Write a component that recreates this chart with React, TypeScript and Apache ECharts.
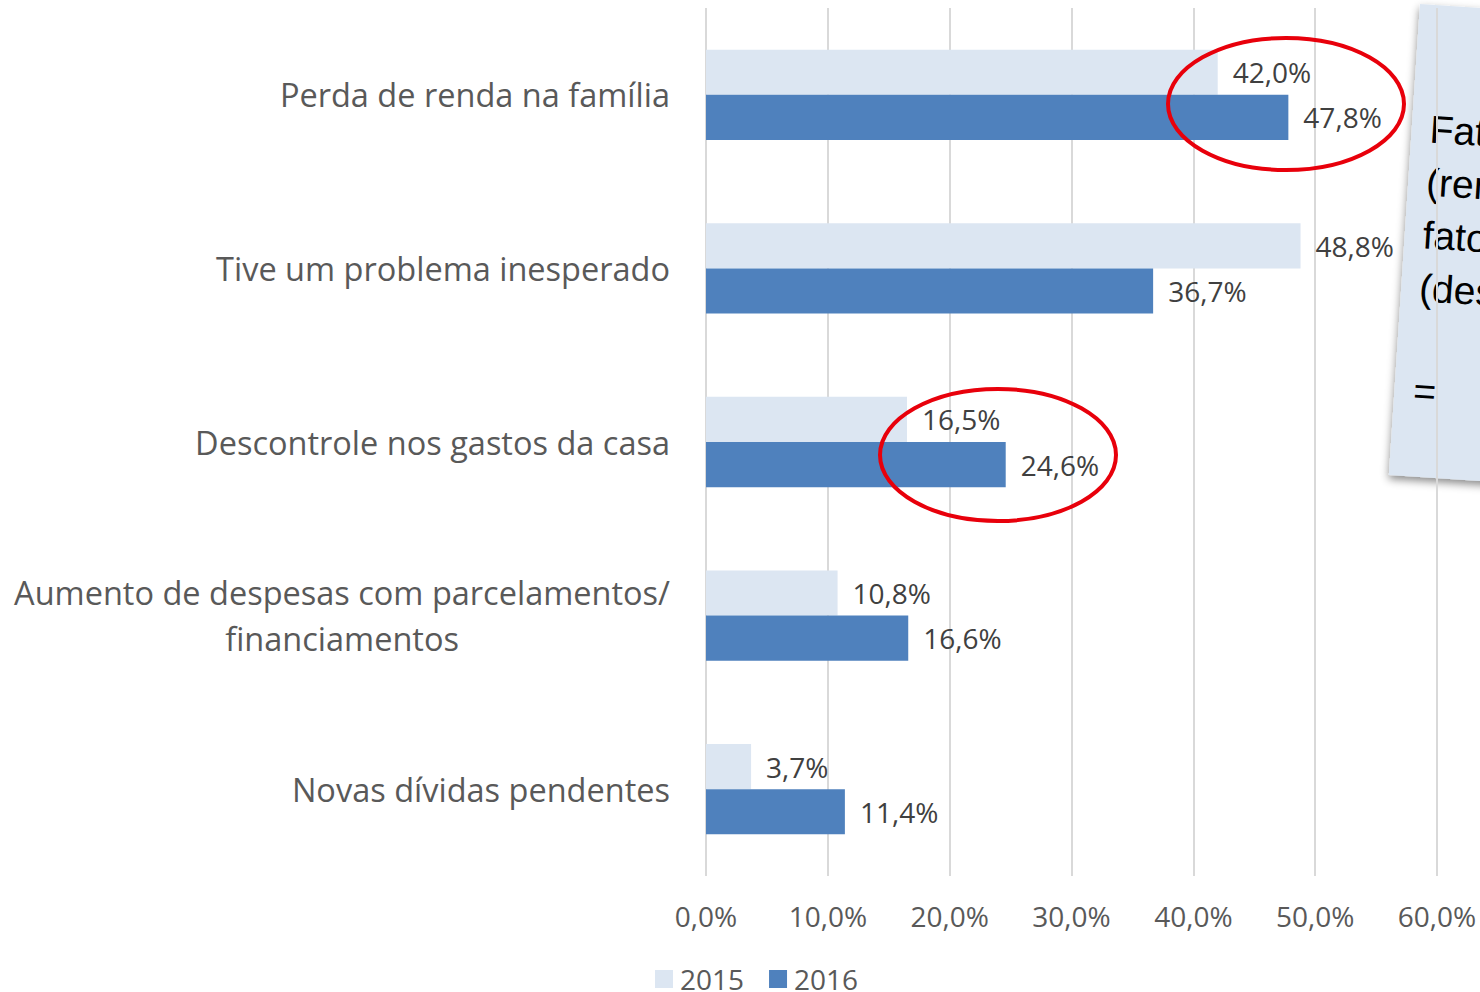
import React, { useEffect, useRef } from "react";
import * as echarts from "echarts";

const categories = [
  "Perda de renda na família",
  "Tive um problema inesperado",
  "Descontrole nos gastos da casa",
  "Aumento de despesas com parcelamentos/\nfinanciamentos",
  "Novas dívidas pendentes",
];
const values2015 = [42.0, 48.8, 16.5, 10.8, 3.7];
const values2016 = [47.8, 36.7, 24.6, 16.6, 11.4];
const seriesNames = ["2015", "2016"];
const noteLines = ["Fat", "(ren", "fato", "(des"];

const FONT = "'Open Sans', sans-serif";
const fmt = (v: number) => v.toFixed(1).replace(".", ",") + "%";

export default function App() {
  const ref = useRef<HTMLDivElement>(null);
  useEffect(() => {
    if (!ref.current) return;
    const chart = echarts.init(ref.current, null, { renderer: "svg" });
    const label = {
      show: true,
      position: "right",
      distance: 15,
      color: "#404040",
      fontSize: 28,
      fontFamily: FONT,
      formatter: (p: any) => fmt(p.value),
    };
    chart.setOption({
      animation: false,
      backgroundColor: "#ffffff",
      textStyle: { fontFamily: FONT },
      grid: { left: 706, right: 43, top: 8, bottom: 116, containLabel: false },
      legend: {
        data: seriesNames,
        left: 650,
        top: 960,
        itemWidth: 18,
        itemHeight: 18,
        itemGap: 25,
        icon: "rect",
        textStyle: { fontSize: 28, color: "#595959", fontFamily: FONT, padding: [0, 0, 0, 2] },
      },
      xAxis: {
        type: "value",
        min: 0,
        max: 60,
        interval: 10,
        axisLine: { show: false },
        axisTick: { show: false },
        splitLine: { show: true, lineStyle: { color: "#d9d9d9", width: 2 } },
        axisLabel: {
          formatter: (v: number) => fmt(v),
          color: "#595959",
          fontSize: 28,
          fontFamily: FONT,
          margin: 26,
        },
      },
      yAxis: {
        type: "category",
        inverse: true,
        data: categories,
        axisLine: { show: false },
        axisTick: { show: false },
        axisLabel: {
          color: "#595959",
          fontSize: 32.5,
          fontFamily: FONT,
          margin: 36,
          lineHeight: 46,
          formatter: (v: string) =>
            v.indexOf("\n") >= 0
              ? v
                  .split("\n")
                  .map((s) => "{c|" + s + "}")
                  .join("\n")
              : v,
          rich: {
            c: { align: "center", fontSize: 32.5, fontFamily: FONT, color: "#595959", lineHeight: 46 },
          },
        },
      },
      series: [
        {
          name: seriesNames[0],
          type: "bar",
          data: values2015,
          barGap: "0%",
          barCategoryGap: "48%",
          itemStyle: { color: "#dce6f2" },
          label,
        },
        {
          name: seriesNames[1],
          type: "bar",
          data: values2016,
          barGap: "0%",
          barCategoryGap: "48%",
          itemStyle: { color: "#4f81bd" },
          label,
        },
      ],
      graphic: [
        {
          type: "ellipse",
          z: 50,
          shape: { cx: 1286, cy: 104, rx: 118, ry: 66 },
          style: { fill: "none", stroke: "#e8000b", lineWidth: 4 },
        },
        {
          type: "ellipse",
          z: 50,
          shape: { cx: 998, cy: 455, rx: 118, ry: 66 },
          style: { fill: "none", stroke: "#e8000b", lineWidth: 4 },
        },
        {
          type: "group",
          x: 1420,
          y: 4,
          rotation: -0.066,
          z: 60,
          children: [
            {
              type: "rect",
              shape: { x: 0, y: 0, width: 200, height: 472 },
              style: {
                fill: "#dce6f2",
                shadowBlur: 8,
                shadowOffsetY: 4,
                shadowOffsetX: 0,
                shadowColor: "rgba(0,0,0,0.45)",
              },
            },
            ...noteLines.map((t, i) => ({
              type: "text",
              x: 18,
              y: 124 + i * 53,
              style: {
                text: t,
                fontSize: 39,
                fontFamily: "'Liberation Sans', Arial, sans-serif",
                fill: "#000000",
                verticalAlign: "middle",
                align: "left",
              },
            })),
            {
              type: "text",
              x: 19,
              y: 386,
              style: {
                text: "=",
                fontSize: 39,
                fontFamily: "'Liberation Sans', Arial, sans-serif",
                fill: "#000000",
                verticalAlign: "middle",
                align: "left",
              },
            },
          ],
        },
      ],
    });
    return () => chart.dispose();
  }, []);
  return (
    <div
      ref={ref}
      style={{ position: "fixed", left: 0, top: 0, width: 1480, height: 992 }}
    />
  );
}
